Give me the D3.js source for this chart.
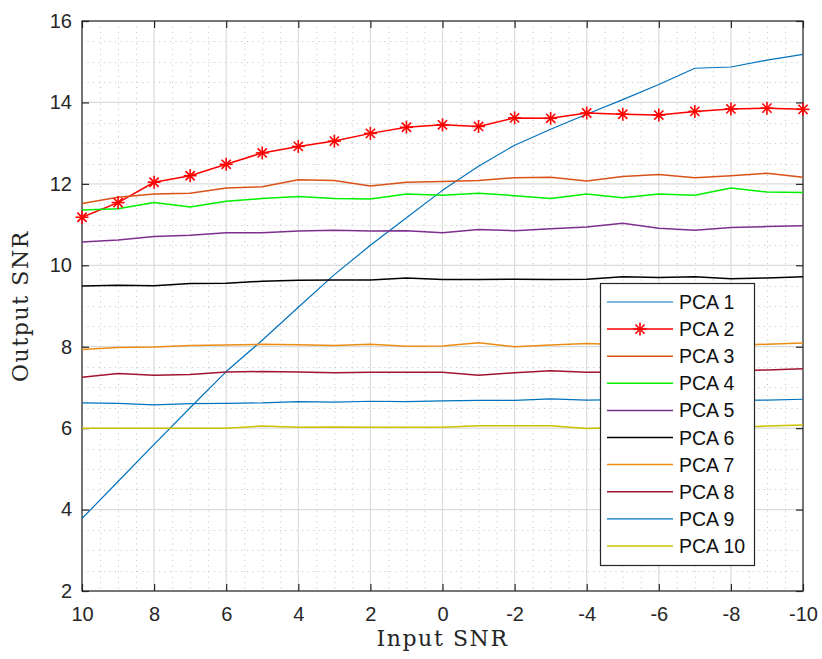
<!DOCTYPE html>
<html>
<head>
<meta charset="utf-8">
<script src="https://cdn.jsdelivr.net/npm/d3@7"></script>
<style>
  html, body { margin: 0; padding: 0; background: #fff; }
  svg { display: block; }
</style>
</head>
<body>
<script>
// Input SNR values (x axis runs from 10 down to -10)
const inputSNR = [10, 9, 8, 7, 6, 5, 4, 3, 2, 1, 0, -1, -2, -3, -4, -5, -6, -7, -8, -9, -10];

const pca1  = [3.78, 4.69, 5.60, 6.50, 7.39, 8.16, 8.97, 9.77, 10.49, 11.17, 11.84, 12.43, 12.95, 13.34, 13.71, 14.07, 14.44, 14.84, 14.87, 15.04, 15.18];
const pca2  = [11.18, 11.54, 12.04, 12.20, 12.48, 12.76, 12.92, 13.05, 13.24, 13.39, 13.45, 13.41, 13.62, 13.61, 13.74, 13.71, 13.69, 13.78, 13.84, 13.86, 13.83];
const pca3  = [11.52, 11.67, 11.75, 11.77, 11.90, 11.93, 12.10, 12.08, 11.95, 12.04, 12.06, 12.08, 12.15, 12.16, 12.07, 12.18, 12.23, 12.15, 12.20, 12.26, 12.16];
const pca4  = [11.36, 11.39, 11.54, 11.43, 11.57, 11.64, 11.69, 11.64, 11.63, 11.75, 11.72, 11.77, 11.71, 11.64, 11.75, 11.66, 11.75, 11.72, 11.90, 11.80, 11.79];
const pca5  = [10.57, 10.62, 10.71, 10.74, 10.80, 10.80, 10.84, 10.86, 10.84, 10.85, 10.80, 10.88, 10.85, 10.90, 10.94, 11.03, 10.91, 10.86, 10.93, 10.95, 10.97];
const pca6  = [9.49, 9.51, 9.50, 9.55, 9.56, 9.61, 9.63, 9.64, 9.64, 9.69, 9.65, 9.65, 9.66, 9.65, 9.66, 9.72, 9.70, 9.72, 9.67, 9.69, 9.72];
const pca7  = [7.93, 7.98, 7.99, 8.03, 8.04, 8.06, 8.05, 8.03, 8.06, 8.01, 8.02, 8.10, 8.00, 8.04, 8.08, 8.05, 8.03, 8.07, 8.04, 8.06, 8.09];
const pca8  = [7.25, 7.34, 7.30, 7.32, 7.38, 7.39, 7.38, 7.36, 7.37, 7.37, 7.37, 7.30, 7.36, 7.41, 7.37, 7.38, 7.40, 7.39, 7.41, 7.43, 7.46];
const pca9  = [6.62, 6.61, 6.57, 6.60, 6.61, 6.62, 6.65, 6.64, 6.66, 6.65, 6.67, 6.68, 6.68, 6.72, 6.69, 6.70, 6.69, 6.70, 6.68, 6.69, 6.71];
const pca10 = [6.00, 6.00, 6.00, 6.00, 6.00, 6.05, 6.02, 6.03, 6.02, 6.02, 6.02, 6.06, 6.06, 6.06, 5.99, 6.02, 6.03, 6.04, 6.03, 6.05, 6.08];

const seriesNames = ["PCA 1", "PCA 2", "PCA 3", "PCA 4", "PCA 5", "PCA 6", "PCA 7", "PCA 8", "PCA 9", "PCA 10"];
const seriesValues = [pca1, pca2, pca3, pca4, pca5, pca6, pca7, pca8, pca9, pca10];
const seriesColors = ["#0072BD", "#FF0000", "#D95319", "#00F000", "#7E2F8E", "#000000", "#EC8C12", "#A2142F", "#0072BD", "#CDC000"];

const xTicks = [10, 8, 6, 4, 2, 0, -2, -4, -6, -8, -10];
const yTicks = [2, 4, 6, 8, 10, 12, 14, 16];

const W = 822, H = 659;
const plot = { left: 82, right: 803, top: 21, bottom: 591 };

const svg = d3.select("body").append("svg").attr("width", W).attr("height", H);

const x = d3.scaleLinear().domain([10, -10]).range([plot.left, plot.right]);
const y = d3.scaleLinear().domain([2, 16]).range([plot.bottom, plot.top]);

const tickFont = "'Liberation Sans', Arial, Helvetica, sans-serif";
const axisColor = "#262626";

// minor grid (dotted) every 0.5
const minorX = d3.range(10, -10.001, -0.5).filter(v => !xTicks.includes(v));
const minorY = d3.range(2, 16.001, 0.5).filter(v => !yTicks.includes(v));
const grid = svg.append("g");
grid.selectAll("line.mx").data(minorX).join("line")
  .attr("x1", d => x(d) + 0.5).attr("x2", d => x(d) + 0.5)
  .attr("y1", plot.top).attr("y2", plot.bottom)
  .attr("stroke", "#c2c2c2").attr("stroke-width", 1).attr("stroke-dasharray", "1,4.5");
grid.selectAll("line.my").data(minorY).join("line")
  .attr("y1", d => Math.round(y(d)) + 0.5).attr("y2", d => Math.round(y(d)) + 0.5)
  .attr("x1", plot.left).attr("x2", plot.right)
  .attr("stroke", "#c2c2c2").attr("stroke-width", 1).attr("stroke-dasharray", "1,4.5");
// major grid
grid.selectAll("line.gx").data(xTicks).join("line")
  .attr("x1", d => x(d)).attr("x2", d => x(d))
  .attr("y1", plot.top).attr("y2", plot.bottom)
  .attr("stroke", "#dcdcdc").attr("stroke-width", 1.2);
grid.selectAll("line.gy").data(yTicks).join("line")
  .attr("y1", d => y(d)).attr("y2", d => y(d))
  .attr("x1", plot.left).attr("x2", plot.right)
  .attr("stroke", "#dcdcdc").attr("stroke-width", 1.2);

// axes with inward ticks
function styleAxis(g, hideLabels) {
  g.select(".domain").remove();
  g.selectAll(".tick line").attr("stroke", axisColor).attr("stroke-width", 1.2);
  g.selectAll(".tick text").attr("fill", "#262626")
    .style("font-family", tickFont).style("font-size", "20px");
  if (hideLabels) g.selectAll(".tick text").remove();
}
const fmt = d => String(d);
svg.append("g").attr("transform", `translate(0,${plot.bottom})`)
  .call(d3.axisBottom(x).tickValues(xTicks).tickFormat(fmt).tickSizeInner(-7).tickSizeOuter(0).tickPadding(16))
  .call(g => styleAxis(g, false));
svg.append("g").attr("transform", `translate(0,${plot.top})`)
  .call(d3.axisTop(x).tickValues(xTicks).tickSizeInner(-7).tickSizeOuter(0))
  .call(g => styleAxis(g, true));
svg.append("g").attr("transform", `translate(${plot.left},0)`)
  .call(d3.axisLeft(y).tickValues(yTicks).tickFormat(fmt).tickSizeInner(-7).tickSizeOuter(0).tickPadding(10))
  .call(g => styleAxis(g, false));
svg.append("g").attr("transform", `translate(${plot.right},0)`)
  .call(d3.axisRight(y).tickValues(yTicks).tickSizeInner(-7).tickSizeOuter(0))
  .call(g => styleAxis(g, true));

// plot box
svg.append("rect")
  .attr("x", plot.left).attr("y", plot.top)
  .attr("width", plot.right - plot.left).attr("height", plot.bottom - plot.top)
  .attr("fill", "none").attr("stroke", axisColor).attr("stroke-width", 1.2);

// lines
const line = d3.line().x((d, i) => x(inputSNR[i])).y(d => y(d));
const lines = svg.append("g");
seriesValues.forEach((vals, k) => {
  lines.append("path").datum(vals)
    .attr("d", line)
    .attr("fill", "none")
    .attr("stroke", seriesColors[k])
    .attr("stroke-width", k === 0 || k === 8 ? 1.2 : 1.5)
    .attr("stroke-linejoin", "round");
});

// asterisk marker
function star(g, cx, cy, r, color) {
  const d = r * Math.SQRT1_2;
  const segs = [[-r, 0, r, 0], [0, -r, 0, r], [-d, -d, d, d], [-d, d, d, -d]];
  segs.forEach(s => g.append("line")
    .attr("x1", cx + s[0]).attr("y1", cy + s[1])
    .attr("x2", cx + s[2]).attr("y2", cy + s[3])
    .attr("stroke", color).attr("stroke-width", 1.6));
}
const markers = svg.append("g");
pca2.forEach((v, i) => star(markers, x(inputSNR[i]), y(v), 6.5, seriesColors[1]));

// legend
const lg = { x: 600, y: 283, w: 154, h: 282, row0: 302, step: 27.1 };
const legend = svg.append("g");
legend.append("rect").attr("x", lg.x + 0.5).attr("y", lg.y + 0.5)
  .attr("width", lg.w).attr("height", lg.h)
  .attr("fill", "#fff").attr("stroke", axisColor).attr("stroke-width", 1.2);
seriesNames.forEach((name, k) => {
  const yy = lg.row0 + k * lg.step;
  legend.append("line").attr("x1", 607).attr("x2", 673).attr("y1", yy).attr("y2", yy)
    .attr("stroke", seriesColors[k]).attr("stroke-width", k === 0 || k === 8 ? 1.2 : 1.5);
  if (k === 1) star(legend, 640, yy, 6.5, seriesColors[1]);
  legend.append("text").attr("x", 679).attr("y", yy).attr("dy", "0.36em")
    .attr("fill", "#111")
    .style("font-family", tickFont).style("font-size", "19.5px")
    .text(name);
});

// axis titles
const titleFont = "'DejaVu Serif', 'Liberation Serif', serif";
svg.append("text")
  .attr("x", (plot.left + plot.right) / 2).attr("y", 646)
  .attr("text-anchor", "middle").attr("fill", "#262626")
  .style("font-family", titleFont).style("font-size", "22px").style("letter-spacing", "1.6px")
  .text("Input SNR");
svg.append("text")
  .attr("transform", `translate(28,${(plot.top + plot.bottom) / 2}) rotate(-90)`)
  .attr("text-anchor", "middle").attr("fill", "#262626")
  .style("font-family", titleFont).style("font-size", "22px").style("letter-spacing", "1.6px")
  .text("Output SNR");
</script>
</body>
</html>
